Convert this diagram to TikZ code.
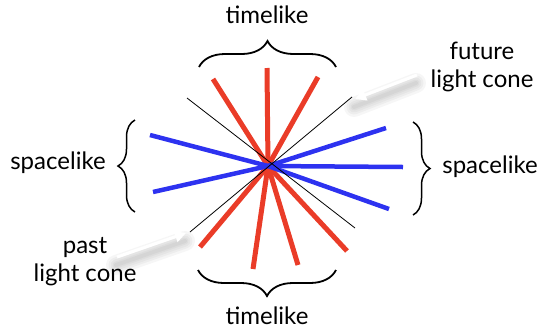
\documentclass[tikz,border=0pt]{standalone}
\usepackage{fontspec}
\setmainfont{Lato}
\usetikzlibrary{arrows.meta,decorations.pathreplacing}
\definecolor{conered}{RGB}{234,60,40}
\definecolor{coneblue}{RGB}{45,50,240}
\tikzset{
  timeray/.style={conered,line width=5pt},
  spaceray/.style={coneblue,line width=4.5pt},
  coneline/.style={black,line width=.8pt},
  curly/.style={decorate,decoration={brace,amplitude=#1},line width=1.8pt},
  word/.style={font=\fontsize{24}{28}\selectfont,align=center,inner sep=0pt},
  pointer/.style={white,line width=3pt,-{Triangle[length=11pt,width=11pt]}},
  pointershade/.style={black,opacity=.035,line width=#1,line cap=round}
}

\begin{document}
\begin{tikzpicture}[x=1pt,y=-1pt]
\useasboundingbox (0,0) rectangle (546,333);
\coordinate (o) at (268,166);

% timelike and spacelike rays
\foreach \p [count=\i] in {(213,79),(267,68),(318,77),(200,247),(253,269),(298,265),(347,251)}
  \draw[timeray] (o) -- \p coordinate (t\i);
\foreach \p [count=\i] in {(150,135),(153,192),(386,128),(403,167),(389,209)}
  \draw[spaceray] (o) -- \p coordinate (s\i);

% light cone
\path (187,98) coordinate (cone nw) (352,97) coordinate (cone ne)
      (190,232) coordinate (cone sw) (355,228) coordinate (cone se);
\draw[coneline] (cone nw) -- (cone se);
\draw[coneline] (cone ne) -- (cone sw);

% braces
\draw[curly=26pt] (199,67) coordinate (bt1) -- (336,67) coordinate (bt2);
\draw[curly=26pt] (336,270) coordinate (bb1) -- (198,270) coordinate (bb2);
\draw[curly=17pt,line width=1.5pt] (135,212) coordinate (bl1) -- (135,120) coordinate (bl2);
\draw[curly=17pt,line width=1.5pt] (413,122) coordinate (br1) -- (413,215) coordinate (br2);

% labels
\path
    (267,15)  node [word] (top)    {timelike}
    (267,316) node [word] (bottom) {timelike}
    (58,163)  node [word] (left)   {spacelike}
    (490,167) node [word] (right)  {spacelike}
    (482,67)  node [word] (future) {future\\light cone}
    (85,262)  node [word] (past)   {past\\light cone};

% pointers
\coordinate (fa) at (417,75);
\coordinate (fb) at (355,99);
\coordinate (pa) at (117,257);
\coordinate (pb) at (186,233);
\foreach \w in {20,15,11,7,4}{
  \draw[pointershade=\w pt] ([shift={(-1pt,-8pt)}]fa) -- ([shift={(-1pt,-8pt)}]fb);
  \draw[pointershade=\w pt] ([shift={(-1pt,-8pt)}]pa) -- ([shift={(-1pt,-8pt)}]pb);
}
\draw[pointer] (fa) -- (fb);
\draw[pointer] (pa) -- (pb);
\end{tikzpicture}
\end{document}
